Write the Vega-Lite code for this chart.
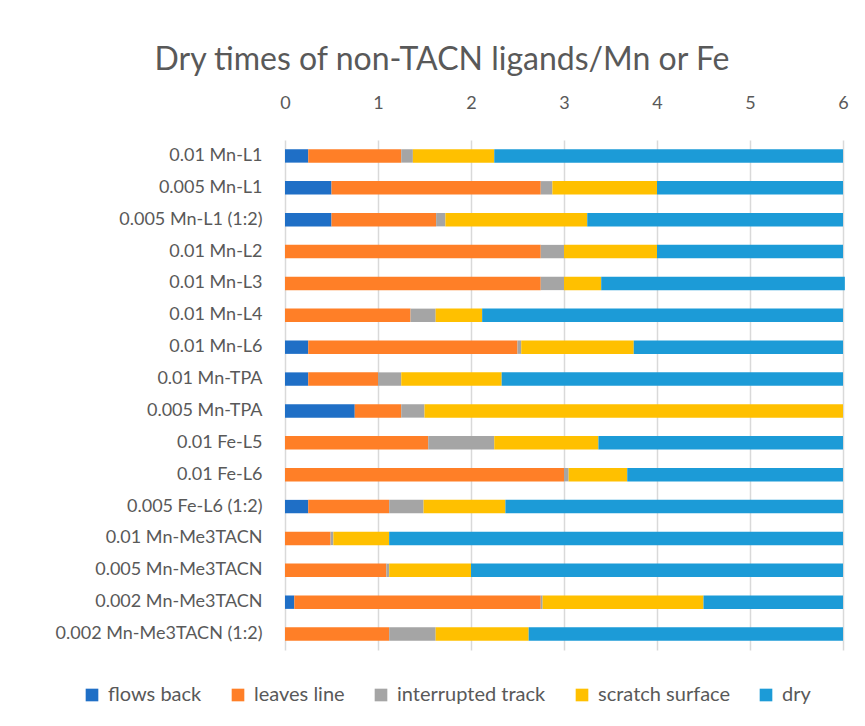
{
  "$schema": "https://vega.github.io/schema/vega-lite/v6.json",
  "width": 558,
  "height": 510,
  "autosize": {"type": "none"},
  "padding": {"left": 285, "top": 140, "right": 22, "bottom": 76},
  "background": "white",
  "title": {
    "text": "Dry times of non-TACN ligands/Mn or Fe",
    "font": "Lato",
    "fontSize": 32,
    "fontWeight": "normal",
    "color": "#595959",
    "anchor": "middle",
    "dx": -122,
    "offset": 17
  },
  "data": {
    "values": [
      {"cat": "0.01 Mn-L1", "status": "flows back", "k": 1, "v": 0.25},
      {"cat": "0.01 Mn-L1", "status": "leaves line", "k": 2, "v": 1.0},
      {"cat": "0.01 Mn-L1", "status": "interrupted track", "k": 3, "v": 0.125},
      {"cat": "0.01 Mn-L1", "status": "scratch surface", "k": 4, "v": 0.875},
      {"cat": "0.01 Mn-L1", "status": "dry", "k": 5, "v": 3.75},
      {"cat": "0.005 Mn-L1", "status": "flows back", "k": 1, "v": 0.5},
      {"cat": "0.005 Mn-L1", "status": "leaves line", "k": 2, "v": 2.25},
      {"cat": "0.005 Mn-L1", "status": "interrupted track", "k": 3, "v": 0.125},
      {"cat": "0.005 Mn-L1", "status": "scratch surface", "k": 4, "v": 1.125},
      {"cat": "0.005 Mn-L1", "status": "dry", "k": 5, "v": 2.0},
      {"cat": "0.005 Mn-L1 (1:2)", "status": "flows back", "k": 1, "v": 0.5},
      {"cat": "0.005 Mn-L1 (1:2)", "status": "leaves line", "k": 2, "v": 1.125},
      {"cat": "0.005 Mn-L1 (1:2)", "status": "interrupted track", "k": 3, "v": 0.1},
      {"cat": "0.005 Mn-L1 (1:2)", "status": "scratch surface", "k": 4, "v": 1.525},
      {"cat": "0.005 Mn-L1 (1:2)", "status": "dry", "k": 5, "v": 2.75},
      {"cat": "0.01 Mn-L2", "status": "flows back", "k": 1, "v": 0},
      {"cat": "0.01 Mn-L2", "status": "leaves line", "k": 2, "v": 2.75},
      {"cat": "0.01 Mn-L2", "status": "interrupted track", "k": 3, "v": 0.25},
      {"cat": "0.01 Mn-L2", "status": "scratch surface", "k": 4, "v": 1.0},
      {"cat": "0.01 Mn-L2", "status": "dry", "k": 5, "v": 2.0},
      {"cat": "0.01 Mn-L3", "status": "flows back", "k": 1, "v": 0},
      {"cat": "0.01 Mn-L3", "status": "leaves line", "k": 2, "v": 2.75},
      {"cat": "0.01 Mn-L3", "status": "interrupted track", "k": 3, "v": 0.25},
      {"cat": "0.01 Mn-L3", "status": "scratch surface", "k": 4, "v": 0.4},
      {"cat": "0.01 Mn-L3", "status": "dry", "k": 5, "v": 2.62},
      {"cat": "0.01 Mn-L4", "status": "flows back", "k": 1, "v": 0},
      {"cat": "0.01 Mn-L4", "status": "leaves line", "k": 2, "v": 1.35},
      {"cat": "0.01 Mn-L4", "status": "interrupted track", "k": 3, "v": 0.27},
      {"cat": "0.01 Mn-L4", "status": "scratch surface", "k": 4, "v": 0.5},
      {"cat": "0.01 Mn-L4", "status": "dry", "k": 5, "v": 3.88},
      {"cat": "0.01 Mn-L6", "status": "flows back", "k": 1, "v": 0.25},
      {"cat": "0.01 Mn-L6", "status": "leaves line", "k": 2, "v": 2.25},
      {"cat": "0.01 Mn-L6", "status": "interrupted track", "k": 3, "v": 0.04},
      {"cat": "0.01 Mn-L6", "status": "scratch surface", "k": 4, "v": 1.21},
      {"cat": "0.01 Mn-L6", "status": "dry", "k": 5, "v": 2.25},
      {"cat": "0.01 Mn-TPA", "status": "flows back", "k": 1, "v": 0.25},
      {"cat": "0.01 Mn-TPA", "status": "leaves line", "k": 2, "v": 0.75},
      {"cat": "0.01 Mn-TPA", "status": "interrupted track", "k": 3, "v": 0.25},
      {"cat": "0.01 Mn-TPA", "status": "scratch surface", "k": 4, "v": 1.08},
      {"cat": "0.01 Mn-TPA", "status": "dry", "k": 5, "v": 3.67},
      {"cat": "0.005 Mn-TPA", "status": "flows back", "k": 1, "v": 0.75},
      {"cat": "0.005 Mn-TPA", "status": "leaves line", "k": 2, "v": 0.5},
      {"cat": "0.005 Mn-TPA", "status": "interrupted track", "k": 3, "v": 0.25},
      {"cat": "0.005 Mn-TPA", "status": "scratch surface", "k": 4, "v": 4.5},
      {"cat": "0.005 Mn-TPA", "status": "dry", "k": 5, "v": 0},
      {"cat": "0.01 Fe-L5", "status": "flows back", "k": 1, "v": 0},
      {"cat": "0.01 Fe-L5", "status": "leaves line", "k": 2, "v": 1.54},
      {"cat": "0.01 Fe-L5", "status": "interrupted track", "k": 3, "v": 0.71},
      {"cat": "0.01 Fe-L5", "status": "scratch surface", "k": 4, "v": 1.12},
      {"cat": "0.01 Fe-L5", "status": "dry", "k": 5, "v": 2.63},
      {"cat": "0.01 Fe-L6", "status": "flows back", "k": 1, "v": 0},
      {"cat": "0.01 Fe-L6", "status": "leaves line", "k": 2, "v": 3.0},
      {"cat": "0.01 Fe-L6", "status": "interrupted track", "k": 3, "v": 0.05},
      {"cat": "0.01 Fe-L6", "status": "scratch surface", "k": 4, "v": 0.63},
      {"cat": "0.01 Fe-L6", "status": "dry", "k": 5, "v": 2.32},
      {"cat": "0.005 Fe-L6 (1:2)", "status": "flows back", "k": 1, "v": 0.25},
      {"cat": "0.005 Fe-L6 (1:2)", "status": "leaves line", "k": 2, "v": 0.87},
      {"cat": "0.005 Fe-L6 (1:2)", "status": "interrupted track", "k": 3, "v": 0.37},
      {"cat": "0.005 Fe-L6 (1:2)", "status": "scratch surface", "k": 4, "v": 0.88},
      {"cat": "0.005 Fe-L6 (1:2)", "status": "dry", "k": 5, "v": 3.63},
      {"cat": "0.01 Mn-Me3TACN", "status": "flows back", "k": 1, "v": 0},
      {"cat": "0.01 Mn-Me3TACN", "status": "leaves line", "k": 2, "v": 0.49},
      {"cat": "0.01 Mn-Me3TACN", "status": "interrupted track", "k": 3, "v": 0.03},
      {"cat": "0.01 Mn-Me3TACN", "status": "scratch surface", "k": 4, "v": 0.6},
      {"cat": "0.01 Mn-Me3TACN", "status": "dry", "k": 5, "v": 4.88},
      {"cat": "0.005 Mn-Me3TACN", "status": "flows back", "k": 1, "v": 0},
      {"cat": "0.005 Mn-Me3TACN", "status": "leaves line", "k": 2, "v": 1.09},
      {"cat": "0.005 Mn-Me3TACN", "status": "interrupted track", "k": 3, "v": 0.03},
      {"cat": "0.005 Mn-Me3TACN", "status": "scratch surface", "k": 4, "v": 0.88},
      {"cat": "0.005 Mn-Me3TACN", "status": "dry", "k": 5, "v": 4.0},
      {"cat": "0.002 Mn-Me3TACN", "status": "flows back", "k": 1, "v": 0.1},
      {"cat": "0.002 Mn-Me3TACN", "status": "leaves line", "k": 2, "v": 2.65},
      {"cat": "0.002 Mn-Me3TACN", "status": "interrupted track", "k": 3, "v": 0.02},
      {"cat": "0.002 Mn-Me3TACN", "status": "scratch surface", "k": 4, "v": 1.73},
      {"cat": "0.002 Mn-Me3TACN", "status": "dry", "k": 5, "v": 1.5},
      {"cat": "0.002 Mn-Me3TACN (1:2)", "status": "flows back", "k": 1, "v": 0},
      {"cat": "0.002 Mn-Me3TACN (1:2)", "status": "leaves line", "k": 2, "v": 1.12},
      {"cat": "0.002 Mn-Me3TACN (1:2)", "status": "interrupted track", "k": 3, "v": 0.5},
      {"cat": "0.002 Mn-Me3TACN (1:2)", "status": "scratch surface", "k": 4, "v": 1.0},
      {"cat": "0.002 Mn-Me3TACN (1:2)", "status": "dry", "k": 5, "v": 3.38}
    ]
  },
  "mark": {"type": "bar", "height": {"band": 0.42}},
  "encoding": {
    "y": {
      "field": "cat",
      "type": "nominal",
      "sort": null,
      "title": null,
      "scale": {"paddingInner": 0, "paddingOuter": 0},
      "axis": {
        "domain": false,
        "ticks": false,
        "labelFont": "Lato",
        "labelFontSize": 18,
        "labelColor": "#595959",
        "labelPadding": 23,
        "labelLimit": 400
      }
    },
    "x": {
      "field": "v",
      "type": "quantitative",
      "stack": "zero",
      "title": null,
      "scale": {"domain": [0, 6], "nice": false},
      "axis": {
        "orient": "top",
        "values": [0, 1, 2, 3, 4, 5, 6],
        "domain": false,
        "ticks": false,
        "grid": true,
        "gridColor": "#d9d9d9",
        "gridWidth": 1.5,
        "labelFont": "Lato",
        "labelFontSize": 18,
        "labelColor": "#595959",
        "labelPadding": 28,
        "labelFlush": false
      }
    },
    "color": {
      "field": "status",
      "type": "nominal",
      "title": null,
      "scale": {
        "domain": ["flows back", "leaves line", "interrupted track", "scratch surface", "dry"],
        "range": ["#1F6FC6", "#FF7F27", "#A5A5A5", "#FFC000", "#1C9BD7"]
      },
      "legend": {
        "orient": "none",
        "direction": "horizontal",
        "legendX": -203,
        "legendY": 545,
        "symbolType": "square",
        "symbolSize": 160,
        "symbolStrokeWidth": 0,
        "labelFont": "Lato",
        "labelFontSize": 20,
        "labelColor": "#595959",
        "columnPadding": 26,
        "labelOffset": 6
      }
    },
    "order": {"field": "k", "type": "quantitative"}
  },
  "config": {
    "view": {"stroke": null}
  }
}
